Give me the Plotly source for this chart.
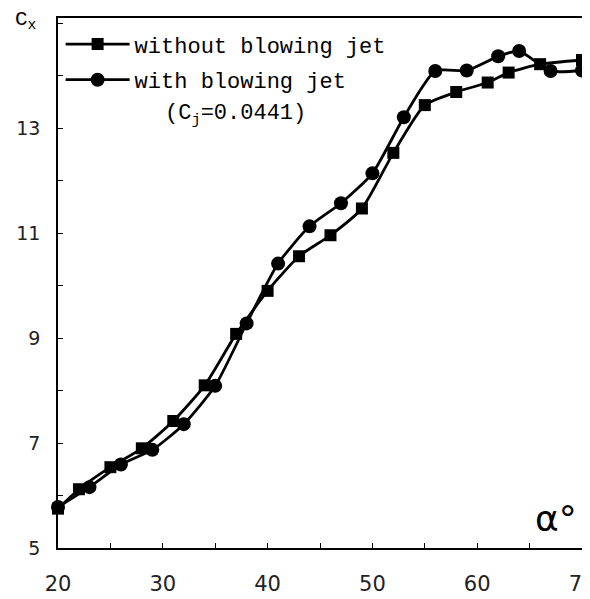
import plotly.graph_objects as go

# Angle of attack (deg) and Cx values
alpha_without = [20, 22, 25, 28, 31, 34, 37, 40, 43, 46, 49, 52, 55, 58, 61, 63, 66, 70]
cx_without = [5.75, 6.12, 6.54, 6.90, 7.42, 8.10, 9.08, 9.90, 10.56, 10.96, 11.47, 12.53,
              13.44, 13.69, 13.87, 14.06, 14.22, 14.30]

alpha_with = [20, 23, 26, 29, 32, 35, 38, 41, 44, 47, 50, 53, 56, 59, 62, 64, 67, 70]
cx_with = [5.78, 6.16, 6.59, 6.87, 7.36, 8.09, 9.28, 10.42, 11.13, 11.57, 12.14, 13.21,
           14.09, 14.10, 14.37, 14.47, 14.09, 14.10]

x_tickvals = [20, 25, 30, 35, 40, 45, 50, 55, 60, 65, 70]
x_ticktext = ["20", "", "30", "", "40", "", "50", "", "60", "", "70"]
y_tickvals = [5, 6, 7, 8, 9, 10, 11, 12, 13, 14, 15]
y_ticktext = ["5", "", "7", "", "9", "", "11", "", "13", "", ""]

mono = "Liberation Mono, DejaVu Sans Mono, monospace"

fig = go.Figure()
fig.add_trace(go.Scatter(
    x=alpha_without, y=cx_without, mode="lines+markers",
    name="without blowing jet", legendgroup="a",
    line=dict(color="black", width=2.8, shape="spline", smoothing=0.6),
    marker=dict(symbol="square", size=12, color="black"),
    cliponaxis=False,
))
fig.add_trace(go.Scatter(
    x=alpha_with, y=cx_with, mode="lines+markers",
    name="with blowing jet", legendgroup="b",
    line=dict(color="black", width=2.8, shape="spline", smoothing=0.6),
    marker=dict(symbol="circle", size=14, color="black"),
    cliponaxis=False,
))

fig.add_annotation(text="(C<sub>j</sub>=0.0441)", xref="paper", yref="paper",
                   x=0.2, y=0.817, xanchor="left", yanchor="middle",
                   showarrow=False, font=dict(family=mono, size=22, color="black"))
fig.add_annotation(text="C<sub>x</sub>", xref="paper", yref="paper",
                   x=-0.085, y=0.995, xanchor="left", yanchor="middle",
                   showarrow=False, font=dict(family=mono, size=21, color="black"))
fig.add_annotation(text="α°", xref="paper", yref="paper",
                   x=0.995, y=0.055, xanchor="right", yanchor="middle",
                   showarrow=False, font=dict(family="DejaVu Sans", size=36, color="black"))

fig.update_layout(
    width=582, height=591,
    margin=dict(l=50, r=8, t=10, b=51, autoexpand=False),
    paper_bgcolor="white", plot_bgcolor="white",
    showlegend=True,
    legend=dict(x=0.005, y=0.99, xanchor="left", yanchor="top",
                bgcolor="rgba(0,0,0,0)", font=dict(family=mono, size=22, color="black"),
                itemwidth=64, traceorder="grouped", tracegroupgap=4),
    xaxis=dict(range=[20, 70], tickvals=x_tickvals, ticktext=x_ticktext,
               ticks="inside", ticklen=5, tickcolor="black",
               showline=True, linecolor="black", linewidth=1.5, mirror=True,
               showgrid=False, zeroline=False, ticklabelstandoff=16,
               ticklabeloverflow="allow",
               tickfont=dict(family="DejaVu Sans", size=21, color="#222")),
    yaxis=dict(range=[5, 15.1], tickvals=y_tickvals, ticktext=y_ticktext,
               ticks="inside", ticklen=5, tickcolor="black",
               showline=True, linecolor="black", linewidth=1.5, mirror=True,
               showgrid=False, zeroline=False, ticklabelstandoff=12,
               tickfont=dict(family="DejaVu Sans", size=19, color="#222")),
)

fig.write_html("out.html")
